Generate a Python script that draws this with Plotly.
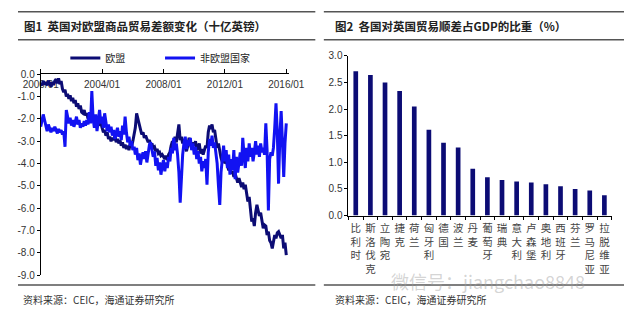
import pandas as pd
import plotly.graph_objects as go

# ---------------- data ----------------
eu_balance = [
    -0.40, -0.50, -0.30, -0.45, -0.35, -0.50, -0.28, -0.42, -0.55, -0.35, -0.48, -0.30,  # 2000
    -0.22, -0.40, -0.18, -0.45, -0.30, -0.65, -0.80, -0.70, -1.00, -0.88, -1.10, -0.95,  # 2001
    -1.20, -1.05, -1.30, -1.15, -1.45, -1.30, -1.55, -1.40, -1.70, -1.75, -1.60, -1.85,  # 2002
    -1.75, -2.00, -1.80, -1.95, -2.10, -1.90, -2.15, -2.05, -2.20, -2.05, -2.30, -2.20,  # 2003
    -2.45, -2.60, -2.50, -2.75, -2.60, -2.90, -2.80, -3.00, -2.85, -2.95, -2.75, -3.05,  # 2004
    -2.90, -3.10, -2.95, -3.20, -3.05, -3.30, -3.15, -3.35, -3.20, -3.40, -3.10, -3.25,  # 2005
    -3.00, -2.70, -2.40, -1.75, -2.00, -2.30, -2.55, -2.70, -2.60, -2.85, -2.75, -2.95,  # 2006
    -3.05, -2.95, -3.20, -3.10, -3.30, -3.25, -3.45, -3.35, -3.55, -3.50, -3.65, -3.60,  # 2007
    -3.70, -3.80, -3.65, -3.85, -3.60, -3.50, -3.20, -3.00, -3.25, -2.80, -3.05, -2.60,  # 2008
    -2.25, -2.95, -2.80, -3.10, -2.90, -3.30, -3.45, -3.20, -2.85, -3.10, -3.35, -3.05,  # 2009
    -3.20, -3.00, -3.40, -3.25, -3.10, -3.55, -3.35, -3.60, -3.40, -3.20, -3.30, -2.60,  # 2010
    -2.30, -2.45, -2.25, -2.60, -2.50, -2.90, -3.30, -3.10, -3.50, -3.75, -3.95, -3.60,  # 2011
    -4.00, -3.75, -4.10, -4.30, -4.15, -4.45, -4.35, -4.60, -4.45, -4.70, -4.85, -4.65,  # 2012
    -4.90, -5.05, -4.85, -5.15, -4.95, -5.40, -5.70, -5.50, -6.20, -6.60, -6.45, -6.80,  # 2013
    -6.20, -5.85, -6.10, -6.35, -6.20, -6.60, -6.90, -6.75, -6.80, -7.20, -7.05, -7.45,  # 2014
    -7.55, -7.80, -7.50, -7.20, -7.35, -7.10, -7.05, -7.25, -7.35, -7.20, -7.80, -7.55,  # 2015
    -8.10,                                                                               # 2016
]

non_eu_balance = [
    -2.35, -2.00, -1.80, -2.05, -2.30, -2.55, -2.25, -2.45, -2.60, -2.40, -2.55, -2.35,  # 2000
    -2.50, -2.65, -2.45, -2.60, -2.50, -2.70, -2.55, -3.25, -1.60, -1.90, -2.20, -1.95,  # 2001
    -2.30, -2.05, -2.35, -2.15, -1.90, -2.25, -2.05, -2.40, -2.20, -2.35, -2.10, -2.30,  # 2002
    -2.05, -2.25, -1.70, -2.20, -0.75, -2.00, -2.40, -1.80, -2.55, -2.10, -1.60, -2.20,  # 2003
    -1.90, -2.40, -1.75, -2.15, -2.55, -2.25, -2.60, -2.35, -2.75, -2.50, -2.90, -2.65,  # 2004
    -2.40, -2.80, -2.55, -2.95, -2.30, -2.70, -1.90, -2.60, -3.05, -2.80, -3.20, -3.00,  # 2005
    -3.40, -3.25, -3.60, -3.30, -3.85, -3.55, -4.05, -3.70, -3.50, -3.80, -3.45, -3.95,  # 2006
    -3.60, -3.15, -3.05, -3.40, -3.70, -3.45, -4.10, -3.75, -4.30, -3.95, -4.50, -4.10,  # 2007
    -3.85, -4.35, -3.95, -4.20, -3.70, -3.90, -3.30, -3.55, -2.85, -3.40, -3.10, -3.60,  # 2008
    -4.40, -5.75, -4.50, -3.60, -3.10, -2.80, -3.35, -2.95, -3.20, -2.85, -3.40, -3.10,  # 2009
    -3.60, -3.25, -3.80, -3.45, -4.00, -3.70, -4.35, -3.90, -4.20, -3.80, -4.95, -3.50,  # 2010
    -2.90, -3.20, -2.75, -3.30, -3.05, -3.60, -4.00, -5.00, -5.85, -4.40, -3.60, -3.20,  # 2011
    -3.90, -3.40, -4.20, -3.60, -4.50, -3.80, -4.30, -3.40, -4.70, -3.70, -4.40, -3.90,  # 2012
    -3.50, -4.10, -2.85, -3.60, -4.20, -3.30, -3.90, -3.10, -3.70, -3.30, -3.90, -3.50,  # 2013
    -3.00, -3.60, -3.20, -3.70, -3.10, -3.50, -3.30, -3.60, -2.20, -3.40, -6.10, -3.80,  # 2014
    -3.50, -3.65, -3.30, -2.40, -1.30, -2.60, -4.90, -2.80, -1.65, -3.00, -4.60, -3.10,  # 2015
    -2.20,                                                                               # 2016
]

months = pd.date_range("2000-01-01", periods=len(eu_balance), freq="MS")

date_tick_vals = ["2000-01-01", "2004-01-01", "2008-01-01", "2012-01-01", "2016-01-01"]
date_tick_text = ["2000/01", "2004/01", "2008/01", "2012/01", "2016/01"]
left_y_vals = [0, -1, -2, -3, -4, -5, -6, -7, -8, -9]
left_y_text = ["0.0", "-1.0", "-2.0", "-3.0", "-4.0", "-5.0", "-6.0", "-7.0", "-8.0", "-9.0"]

countries = ["比利时", "斯洛伐克", "立陶宛", "捷克", "荷兰", "匈牙利", "德国", "波兰", "丹麦",
             "葡萄牙", "瑞典", "意大利", "卢森堡", "奥地利", "西班牙", "芬兰", "罗马尼亚", "拉脱维亚"]
surplus_gdp = [2.71, 2.64, 2.50, 2.34, 2.05, 1.61, 1.37, 1.28, 0.88,
               0.72, 0.67, 0.64, 0.62, 0.59, 0.55, 0.50, 0.47, 0.38]

NAVY = "#0c0c74"
BLUE = "#1212f2"
FONT = "Liberation Sans, Arial, Noto Sans CJK SC, sans-serif"
CJK = "Noto Sans CJK SC, sans-serif"

W, H = 640, 322


def px(x):
    return x / W


def py(y):
    return 1 - y / H


fig = go.Figure()
fig.add_trace(go.Scatter(x=months, y=eu_balance, name="欧盟", mode="lines",
                         line=dict(color=NAVY, width=3), xaxis="x", yaxis="y", legend="legend"))
fig.add_trace(go.Scatter(x=months, y=non_eu_balance, name="非欧盟国家", mode="lines",
                         line=dict(color=BLUE, width=3), xaxis="x", yaxis="y", legend="legend2"))
fig.add_trace(go.Bar(x=countries, y=surplus_gdp, marker=dict(color=NAVY, line=dict(width=0)),
                     width=0.32, xaxis="x2", yaxis="y2", showlegend=False))

axis_common = dict(showgrid=False, zeroline=False, showline=True, linecolor="#000", linewidth=1,
                   ticks="outside", tickcolor="#000", tickwidth=1, ticklabeloverflow="allow")

fig.update_layout(
    width=W, height=H, margin=dict(l=0, r=0, t=0, b=0),
    paper_bgcolor="white", plot_bgcolor="white",
    font=dict(family=FONT, size=10, color="#222"),
    xaxis=dict(domain=[px(24), px(286)], anchor="y", type="date",
               range=["2000-01-01", "2016-03-01"], side="top",
               tickvals=date_tick_vals, ticktext=date_tick_text,
               ticklabelposition="inside", ticklabelstandoff=6, ticklen=4, tickangle=0,
               layer="below traces",
               tickfont=dict(size=10, color="#333"), **axis_common),
    yaxis=dict(domain=[py(279.7), py(71.7)], anchor="x", range=[-9, 0],
               tickvals=left_y_vals, ticktext=left_y_text, ticklen=3,
               tickfont=dict(size=10, color="#333"), **axis_common),
    xaxis2=dict(domain=[px(349), px(627)], anchor="y2", type="category",
                tickson="boundaries", ticklen=3, tickangle=0, ticklabelstandoff=3,
                tickvals=countries, ticktext=["<br>".join(c) for c in countries],
                tickfont=dict(family=CJK, size=10.5, color="#444"), **axis_common),
    yaxis2=dict(domain=[py(218), py(52.7)], anchor="x2", range=[0, 3], dtick=0.5,
                tickformat=".1f", ticklen=3,
                tickfont=dict(size=10, color="#333"), **axis_common),
    legend=dict(orientation="h", x=px(50), y=py(55), xanchor="left", yanchor="middle",
                font=dict(family=CJK, size=10, color="#222"), bgcolor="rgba(0,0,0,0)"),
    legend2=dict(orientation="h", x=px(150), y=py(55), xanchor="left", yanchor="middle",
                 font=dict(family=CJK, size=10, color="#222"), bgcolor="rgba(0,0,0,0)"),
)

# header / footer rules
rule = dict(color="#555", width=1.5)
for (x0, x1) in [(0, 314), (323, 640)]:
    for yy in (7, 36, 290):
        fig.add_shape(type="line", xref="paper", yref="paper",
                      x0=px(x0), x1=px(x1), y0=py(yy), y1=py(yy), line=rule)

fig.add_annotation(text="<b>图1  英国对欧盟商品贸易差额变化（十亿英镑）</b>", xref="paper", yref="paper",
                   x=px(4), y=py(22), xanchor="left", yanchor="middle", showarrow=False,
                   font=dict(family=CJK, size=11.5, color="#222"))
fig.add_annotation(text="<b>图2  各国对英国贸易顺差占GDP的比重（%）</b>", xref="paper", yref="paper",
                   x=px(333), y=py(22), xanchor="left", yanchor="middle", showarrow=False,
                   font=dict(family=CJK, size=11.5, color="#222"))
for xs in (3, 333):
    fig.add_annotation(text="资料来源：CEIC，海通证券研究所", xref="paper", yref="paper",
                       x=px(xs), y=py(305), xanchor="left", yanchor="middle", showarrow=False,
                       font=dict(family=CJK, size=10, color="#333"))

fig.add_annotation(text="微信号：jiangchao8848", xref="paper", yref="paper",
                   x=px(392), y=py(286), xanchor="left", yanchor="middle", showarrow=False,
                   font=dict(family=CJK, size=18, color="rgba(160,160,160,0.45)"))

fig.write_html("out.html")
